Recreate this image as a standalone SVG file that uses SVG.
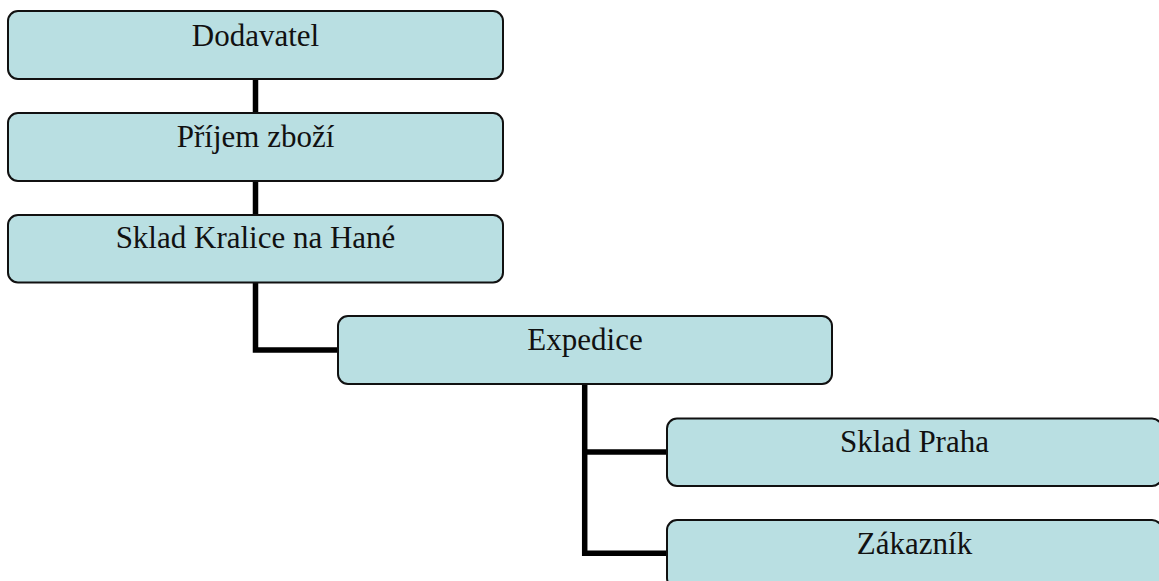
<svg xmlns="http://www.w3.org/2000/svg" width="1159" height="581" viewBox="0 0 1159 581">
<style>
.box{fill:#b9dfe2;stroke:#111;stroke-width:2}
.lbl{font-family:"Liberation Serif","Times New Roman",serif;font-size:31px;fill:#111;text-anchor:middle}
.conn{fill:none;stroke:#000;stroke-width:5.5;stroke-linejoin:miter}
</style>
<rect width="1159" height="581" fill="#fff"/>
<g id="connectors">
<path class="conn" d="M255.5 79V113"/>
<path class="conn" d="M255.5 181V215"/>
<path class="conn" d="M255.5 282V350H338"/>
<path class="conn" d="M584.7 384V553.3H667"/>
<path class="conn" d="M584.7 452H667"/>
</g>
<g id="dodavatel"><rect class="box" x="8" y="11" width="495" height="68" rx="10"/><text class="lbl" x="255.5" y="45.5">Dodavatel</text></g>
<g id="prijem"><rect class="box" x="8" y="113" width="495" height="68" rx="10"/><text class="lbl" x="255.5" y="146.5">Příjem zboží</text></g>
<g id="sklad-kralice"><rect class="box" x="8" y="215" width="495" height="67.5" rx="10"/><text class="lbl" x="255.5" y="248.3">Sklad Kralice na Hané</text></g>
<g id="expedice"><rect class="box" x="338" y="316" width="494" height="68" rx="10"/><text class="lbl" x="585" y="350">Expedice</text></g>
<g id="sklad-praha"><rect class="box" x="667" y="418.5" width="495" height="67.5" rx="10"/><text class="lbl" x="914.5" y="452">Sklad Praha</text></g>
<g id="zakaznik"><rect class="box" x="667" y="520" width="495" height="68" rx="10"/><text class="lbl" x="914.5" y="554">Zákazník</text></g>
</svg>
